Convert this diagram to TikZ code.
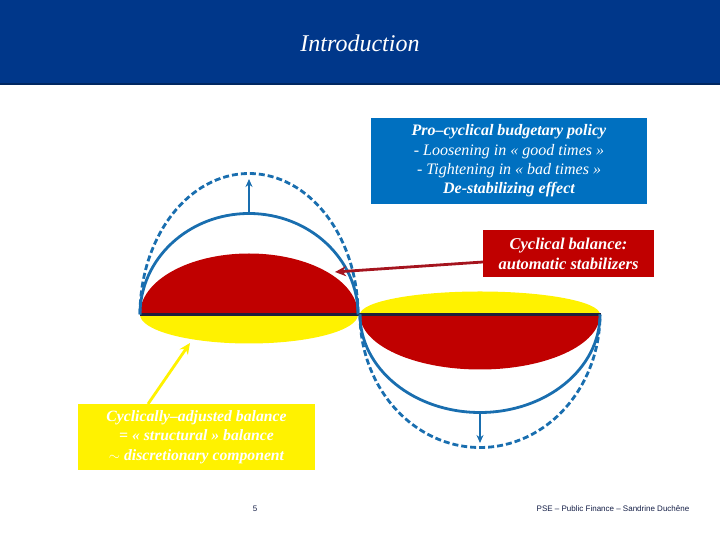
\documentclass[tikz,border=0pt]{standalone}
\usepackage{fontspec}
\setmainfont{Liberation Serif}
\newfontfamily\footfont{Liberation Sans}
\usepackage{tikz}
\usetikzlibrary{arrows.meta}
\definecolor{headnavy}{RGB}{0,55,138}
\definecolor{boxblue}{RGB}{0,112,192}
\definecolor{domered}{RGB}{192,0,0}
\definecolor{arrowred}{RGB}{165,20,30}
\definecolor{lineblue}{RGB}{25,110,175}
\definecolor{axisnavy}{RGB}{30,30,60}
\definecolor{foottext}{RGB}{20,30,70}

\begin{document}
\begin{tikzpicture}[x=1pt,y=1pt,
    textbox/.style={text=white,inner sep=0pt,align=center,
        font=\fontsize{16}{19.3}\selectfont\itshape},
    bluearc/.style={lineblue,line width=2.8pt},
    policydash/.style={dash pattern=on 6pt off 3pt},
    bluetip/.style={lineblue,line width=2.2pt,-{Stealth[length=8pt,width=7pt]}},
    footnote/.style={text=foottext,inner sep=0pt,font=\footfont\fontsize{8}{9}\selectfont}]
    \useasboundingbox (0,0) rectangle (720,540);
    % header band
    \fill[headnavy] (0,456) rectangle (720,540);
    \fill[headnavy!70!black] (0,455) rectangle (720,457);
    \node[text=white,font=\fontsize{24}{28}\selectfont\itshape] (title) at (360,497) {Introduction};
    % balances
    \fill[yellow] (140,225.5) arc[start angle=180,end angle=360,x radius=109pt,y radius=29pt] -- cycle;
    \fill[domered] (140,225.5) arc[start angle=180,end angle=0,x radius=109pt,y radius=61pt] -- cycle;
    \fill[yellow] (360,225.5) arc[start angle=180,end angle=0,x radius=120pt,y radius=23pt] -- cycle;
    \fill[domered] (360,225.5) arc[start angle=180,end angle=360,x radius=120pt,y radius=55pt] -- cycle;
    \draw[axisnavy,line width=3.6pt] (140,225.5) -- (601,225.5);
    % budget policy curves
    \foreach \ra/\rb/\sty in {101/98/solid,141/133/policydash} {
        \draw[bluearc,\sty] (140,225.5) arc[start angle=180,end angle=0,x radius=109pt,y radius=\ra pt];
        \draw[bluearc,\sty] (360,225.5) arc[start angle=180,end angle=360,x radius=120pt,y radius=\rb pt];
    }
    \coordinate (upbase) at (249,326.5);
    \coordinate (uptip) at (249,361);
    \coordinate (downbase) at (480,127.5);
    \coordinate (downtip) at (480,97);
    \draw[bluetip] (upbase) -- (uptip);
    \draw[bluetip] (downbase) -- (downtip);
    % labels
    \node[textbox,fill=boxblue,minimum width=276pt,minimum height=86pt] (policybox) at (509,379)
        {\bfseries Pro–cyclical budgetary policy\\- Loosening in « good times »\\- Tightening in « bad times »\\\bfseries De-stabilizing effect};
    \node[textbox,fill=domered,minimum width=171pt,minimum height=47pt,
        font=\fontsize{16.5}{20}\selectfont\bfseries\itshape] (stabbox) at (568.5,286.5)
        {Cyclical balance:\\automatic stabilizers};
    \node[textbox,fill=yellow,minimum width=237pt,minimum height=66pt,
        font=\fontsize{15.7}{19.5}\selectfont\bfseries\itshape] (adjbox) at (196.5,103)
        {Cyclically–adjusted balance\\= « structural » balance\\$\sim$ discretionary component};
    \coordinate (redbase) at (483,278);
    \coordinate (redtip) at (335,268);
    \coordinate (yellowbase) at (148,136);
    \coordinate (yellowtip) at (190,197);
    \draw[arrowred,line width=2.8pt,-{Stealth[length=11pt,width=10pt]}] (redbase) -- (redtip);
    \draw[yellow,line width=2.8pt,-{Stealth[length=11pt,width=10pt]}] (yellowbase) -- (yellowtip);
    % footer
    \node[footnote] (pagenum) at (255,31) {5};
    \node[footnote] (footer) at (613,31) {PSE – Public Finance – Sandrine Duchêne};
\end{tikzpicture}
\end{document}
